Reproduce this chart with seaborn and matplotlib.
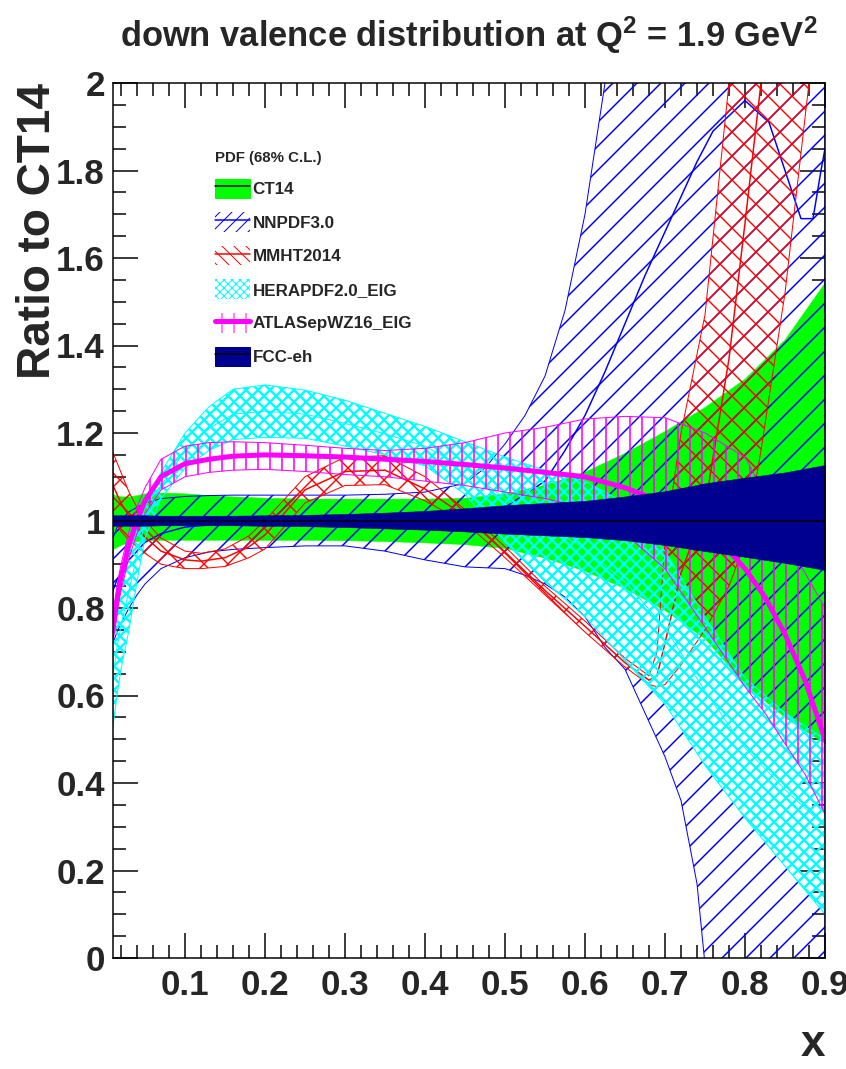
import numpy as np
import matplotlib
matplotlib.use("Agg")
import matplotlib.pyplot as plt
import seaborn as sns
from matplotlib.patches import Patch
from matplotlib.lines import Line2D
from matplotlib.legend_handler import HandlerTuple
from matplotlib.ticker import MultipleLocator, FormatStrFormatter

# ---------------- data (ratio to CT14) ----------------
X = [0.01, 0.015, 0.02, 0.03, 0.04, 0.05, 0.07, 0.1, 0.13, 0.16, 0.2, 0.25, 0.3,
     0.35, 0.4, 0.45, 0.5, 0.55, 0.6, 0.65, 0.7, 0.75, 0.8, 0.85, 0.9]

ct14_up = [1.06, 1.057, 1.055, 1.055, 1.058, 1.062, 1.064, 1.062, 1.058, 1.055, 1.052, 1.05, 1.05,
           1.05, 1.05, 1.052, 1.062, 1.082, 1.112, 1.155, 1.205, 1.26, 1.325, 1.415, 1.545]
ct14_lo = [0.935, 0.94, 0.945, 0.95, 0.953, 0.955, 0.956, 0.956, 0.956, 0.956, 0.956, 0.956, 0.955,
           0.953, 0.95, 0.946, 0.937, 0.915, 0.885, 0.845, 0.795, 0.73, 0.625, 0.55, 0.49]
ct14_c = [1.0] * 25

fcc_up = [1.012, 1.012, 1.012, 1.012, 1.012, 1.012, 1.011, 1.011, 1.011, 1.011, 1.012, 1.013, 1.015,
          1.018, 1.022, 1.028, 1.035, 1.040, 1.045, 1.055, 1.067, 1.085, 1.098, 1.11, 1.127]
fcc_lo = [0.988, 0.988, 0.988, 0.988, 0.988, 0.988, 0.989, 0.989, 0.989, 0.989, 0.988, 0.987, 0.985,
          0.982, 0.979, 0.975, 0.97, 0.966, 0.962, 0.955, 0.944, 0.93, 0.917, 0.903, 0.887]

hera_up = [0.76, 0.82, 0.86, 0.93, 0.98, 1.03, 1.11, 1.2, 1.26, 1.3, 1.31, 1.298, 1.275,
           1.245, 1.215, 1.18, 1.145, 1.115, 1.09, 1.04, 0.93, 0.78, 0.64, 0.56, 0.5]
hera_lo = [0.53, 0.6, 0.66, 0.75, 0.86, 0.96, 1.05, 1.12, 1.16, 1.185, 1.19, 1.188, 1.17,
           1.15, 1.125, 1.06, 0.95, 0.86, 0.78, 0.68, 0.58, 0.44, 0.32, 0.21, 0.1]
hera_c = [0.645, 0.71, 0.76, 0.84, 0.92, 0.995, 1.08, 1.16, 1.21, 1.243, 1.25, 1.243, 1.222,
          1.198, 1.17, 1.12, 1.05, 0.99, 0.935, 0.86, 0.755, 0.61, 0.48, 0.385, 0.3]

ATLAS_X = [0.01, 0.015, 0.02, 0.03, 0.04, 0.05, 0.07, 0.1, 0.13, 0.16, 0.2, 0.25, 0.3, 0.35,
           0.4, 0.45, 0.5, 0.55, 0.6, 0.65, 0.7, 0.75, 0.8, 0.825, 0.85, 0.875, 0.9]
atlas_c = [0.75, 0.82, 0.87, 0.945, 1.0, 1.045, 1.1, 1.13, 1.14, 1.147, 1.15, 1.148, 1.145, 1.14,
           1.135, 1.128, 1.12, 1.11, 1.1, 1.075, 1.04, 0.99, 0.89, 0.825, 0.74, 0.635, 0.5]
atlas_up = [0.78, 0.85, 0.9, 0.975, 1.03, 1.075, 1.14, 1.17, 1.178, 1.18, 1.178, 1.172, 1.165, 1.16,
            1.165, 1.178, 1.2, 1.213, 1.232, 1.238, 1.235, 1.2, 1.145, 1.06, 0.96, 0.88, 0.8]
atlas_lo = [0.72, 0.79, 0.84, 0.915, 0.97, 1.015, 1.07, 1.1, 1.11, 1.115, 1.117, 1.112, 1.105, 1.1,
            1.09, 1.08, 1.065, 1.05, 1.03, 0.97, 0.89, 0.756, 0.62, 0.56, 0.49, 0.42, 0.33]

NN_X = [0.01, 0.015, 0.02, 0.03, 0.04, 0.05, 0.07, 0.1, 0.13, 0.16, 0.2, 0.25, 0.3, 0.35, 0.4,
        0.45, 0.475, 0.5, 0.525, 0.55, 0.575, 0.6, 0.625, 0.65, 0.675, 0.7, 0.72, 0.74, 0.76,
        0.8, 0.83, 0.85, 0.87, 0.885, 0.895, 0.9]
nn_up = [0.96, 0.985, 1.0, 1.02, 1.03, 1.04, 1.05, 1.055, 1.057, 1.058, 1.058, 1.058, 1.058, 1.06, 1.065,
         1.085, 1.12, 1.175, 1.24, 1.33, 1.48, 1.7, 2.0, 2.4, 2.8, 3.2, 3.5, 3.8, 4.0,
         4.3, 4.5, 4.6, 4.7, 4.8, 4.8, 4.8]
nn_lo = [0.72, 0.745, 0.765, 0.80, 0.83, 0.855, 0.89, 0.915, 0.928, 0.934, 0.938, 0.942, 0.942, 0.93, 0.91,
         0.894, 0.892, 0.89, 0.875, 0.855, 0.825, 0.78, 0.71, 0.66, 0.56, 0.46, 0.36, 0.17, -0.2,
         -0.8, -1.2, -1.5, -1.8, -2.0, -2.1, -2.2]
nn_c = [0.84, 0.865, 0.88, 0.91, 0.93, 0.95, 0.97, 0.985, 0.99, 0.995, 0.998, 1.0, 1.0, 0.995, 0.99,
        0.99, 1.005, 1.03, 1.06, 1.09, 1.16, 1.24, 1.34, 1.45, 1.56, 1.66, 1.74, 1.82, 1.89,
        1.96, 1.91, 1.8, 1.69, 1.69, 1.8, 1.85]

MM_X = [0.01, 0.02, 0.03, 0.04, 0.05, 0.07, 0.1, 0.12, 0.15, 0.18, 0.2, 0.25, 0.3, 0.35, 0.4,
        0.45, 0.5, 0.55, 0.6, 0.65, 0.68, 0.69, 0.7, 0.72, 0.75, 0.78, 0.8, 0.82, 0.85, 0.88, 0.9]
mm_up = [1.155, 1.11, 1.065, 1.03, 1.0, 0.96, 0.93, 0.925, 0.935, 0.965, 1.0, 1.1, 1.145, 1.148, 1.1,
         1.025, 0.94, 0.85, 0.77, 0.685, 0.645, 0.7, 0.95, 1.2, 1.47, 2.0, 2.4, 2.8, 3.3, 3.6, 3.8]
mm_lo = [1.0, 0.975, 0.955, 0.94, 0.925, 0.9, 0.89, 0.89, 0.895, 0.915, 0.935, 1.04, 1.08, 1.082, 1.045,
         0.995, 0.915, 0.83, 0.745, 0.665, 0.625, 0.62, 0.625, 0.67, 0.75, 0.85, 0.95, 1.16, 1.52, 2.0, 2.35]
mm_c = [1.08, 1.04, 1.01, 0.985, 0.962, 0.93, 0.91, 0.907, 0.915, 0.94, 0.967, 1.07, 1.112, 1.115, 1.072,
        1.01, 0.928, 0.84, 0.758, 0.675, 0.635, 0.645, 0.72, 0.88, 1.03, 1.37, 1.68, 2.0, 2.5, 2.9, 3.1]

labels = ["CT14", "NNPDF3.0", "MMHT2014", "HERAPDF2.0_EIG", "ATLASepWZ16_EIG", "FCC-eh"]
legend_title = "PDF (68% C.L.)"
title = r"down valence distribution at Q$^{2}$ = 1.9 GeV$^{2}$"
x_ticks = [0.1, 0.2, 0.3, 0.4, 0.5, 0.6, 0.7, 0.8, 0.9]
y_ticks = [0, 0.2, 0.4, 0.6, 0.8, 1.0, 1.2, 1.4, 1.6, 1.8, 2.0]

# ---------------- style ----------------
sns.set_style("ticks")
FONT = "Liberation Sans"
plt.rcParams["font.family"] = [FONT, "DejaVu Sans"]
plt.rcParams["font.weight"] = "bold"
plt.rcParams["mathtext.fontset"] = "custom"
plt.rcParams["mathtext.rm"] = FONT + ":bold"
plt.rcParams["mathtext.it"] = FONT + ":bold"
plt.rcParams["mathtext.bf"] = FONT + ":bold"

GREEN, BLUE, RED, CYAN, MAG, NAVY = "#00ff00", "#0000ff", "#ff0000", "#00ffff", "#ff00ff", "#000090"

DPI = 72
fig = plt.figure(figsize=(846 / DPI, 1069 / DPI), dpi=DPI)
ax = fig.add_axes([113 / 846, 1 - 958 / 1069, 712 / 846, 875 / 1069])


def band(xv, lo, up, color, hatch=None, lw_h=1.2, z=1, solid=False):
    if solid:
        c = ax.fill_between(xv, lo, up, facecolor=color, edgecolor=color, linewidth=0.5, zorder=z)
    else:
        c = ax.fill_between(xv, lo, up, facecolor="none", edgecolor=color, hatch=hatch,
                            linewidth=1.0, zorder=z)
        if hasattr(c, "set_hatch_linewidth"):
            c.set_hatch_linewidth(lw_h)
    return c


# CT14
band(X, ct14_lo, ct14_up, GREEN, z=1, solid=True)
# NNPDF3.0
band(NN_X, nn_lo, nn_up, BLUE, hatch="/", lw_h=1.5, z=2)
sns.lineplot(x=NN_X, y=nn_c, color=BLUE, linewidth=1.5, ax=ax, estimator=None, zorder=2.1)
# MMHT2014
band(MM_X, mm_lo, mm_up, RED, hatch="x", lw_h=1.4, z=3)
sns.lineplot(x=MM_X, y=mm_c, color=RED, linewidth=1.5, ax=ax, estimator=None, zorder=3.1)
# HERAPDF2.0
band(X, hera_lo, hera_up, CYAN, hatch="xx", lw_h=2.4, z=4)
sns.lineplot(x=X, y=hera_c, color=CYAN, linewidth=1.0, ax=ax, estimator=None, zorder=4.1)
# ATLASepWZ16
band(ATLAS_X, atlas_lo, atlas_up, MAG, hatch="|", lw_h=1.6, z=5)
sns.lineplot(x=ATLAS_X, y=atlas_c, color=MAG, linewidth=5, ax=ax, estimator=None, zorder=5.1)
# FCC-eh
band(X, fcc_lo, fcc_up, NAVY, z=6, solid=True)
sns.lineplot(x=X, y=ct14_c, color="black", linewidth=1.5, ax=ax, estimator=None, zorder=7)

# ---------------- axes ----------------
ax.set_xlim(0.01, 0.9)
ax.set_ylim(0, 2)
ax.set_xticks(x_ticks)
ax.set_yticks(y_ticks)
ax.xaxis.set_minor_locator(MultipleLocator(0.02))
ax.yaxis.set_minor_locator(MultipleLocator(0.05))
ax.xaxis.set_major_formatter(FormatStrFormatter("%g"))
ax.yaxis.set_major_formatter(FormatStrFormatter("%g"))
ax.tick_params(which="both", direction="in", top=True, right=True, width=1.5, color="black",
               labelsize=35)
ax.tick_params(which="major", length=25)
ax.tick_params(which="minor", length=13)
ax.tick_params(axis="x", which="major", pad=11)
ax.tick_params(axis="y", which="major", pad=8)
for s in ax.spines.values():
    s.set_linewidth(1.5)
    s.set_color("black")
    s.set_zorder(10)

ax.set_ylabel("Ratio to CT14", fontsize=46, fontweight="bold", loc="top")
ax.yaxis.set_label_coords(-0.074, 1.0)
ax.set_xlabel("x", fontsize=44, fontweight="bold", loc="right")
ax.xaxis.set_label_coords(1.0, -0.076)

fig.text(469 / 846, 1 - 47 / 1069, title, ha="center", va="baseline", fontsize=34.5,
         fontweight="bold")

# ---------------- legend ----------------
def hpatch(color, hatch):
    return Patch(facecolor="none", edgecolor=color, hatch=hatch, linewidth=0)


handles = [
    (Patch(facecolor=GREEN, edgecolor=GREEN), Line2D([], [], color="black", lw=1.5)),
    (hpatch(BLUE, "//"), Line2D([], [], color=BLUE, lw=1.5)),
    (hpatch(RED, "\\\\"), Line2D([], [], color=RED, lw=1.5)),
    (hpatch(CYAN, "xxx"),),
    (hpatch(MAG, "|"), Line2D([], [], color=MAG, lw=5)),
    (Patch(facecolor=NAVY, edgecolor=NAVY), Line2D([], [], color="black", lw=1.5)),
]
leg = ax.legend(handles, labels, loc="upper left", bbox_to_anchor=(0.143, 0.9226),
                frameon=False, title=legend_title, alignment="left",
                prop={"weight": "bold", "size": 17},
                title_fontproperties={"weight": "bold", "size": 15},
                handlelength=2.06, handleheight=1.4, labelspacing=0.82, handletextpad=0.15,
                borderpad=0, borderaxespad=0,
                handler_map={tuple: HandlerTuple(ndivide=1, pad=0)})
leg.set_zorder(20)

fig.savefig("out.png", dpi=DPI)
